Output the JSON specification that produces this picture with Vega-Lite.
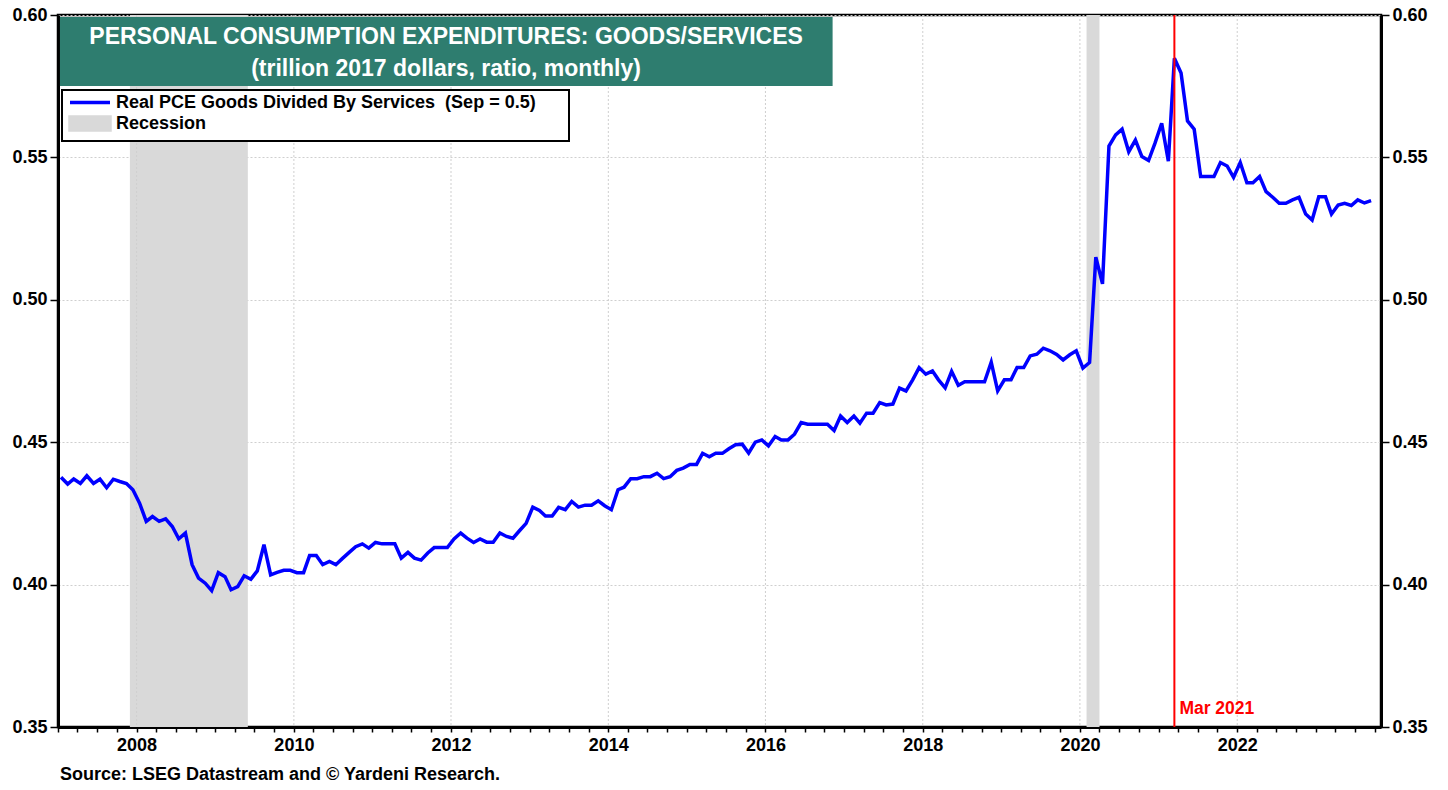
{
 "$schema": "https://vega.github.io/schema/vega-lite/v6.json",
 "width": 1323,
 "height": 712,
 "autosize": {"type": "none"},
 "padding": {"left": 58, "top": 15, "right": 67, "bottom": 63},
 "background": "white",
 "config": {"view": {"stroke": "black", "strokeWidth": 2.5}, "font": "Liberation Sans"},
 "title": {"text": "Source: LSEG Datastream and © Yardeni Research.", "orient": "bottom", "anchor": "start", "frame": "group", "font": "Liberation Sans", "fontSize": 18, "fontWeight": "bold", "color": "black", "offset": 12, "dx": 2},
 "data": {"values": [
  {"d":"2007-01-15","v":0.4377},{"d":"2007-02-15","v":0.4353},{"d":"2007-03-15","v":0.4371},{"d":"2007-04-15","v":0.4355},{"d":"2007-05-15","v":0.4382},{"d":"2007-06-15","v":0.4355},{"d":"2007-07-15","v":0.4370},{"d":"2007-08-15","v":0.4340},{"d":"2007-09-15","v":0.4370},{"d":"2007-10-15","v":0.4362},{"d":"2007-11-15","v":0.4355},{"d":"2007-12-15","v":0.4333},
  {"d":"2008-01-15","v":0.4286},{"d":"2008-02-15","v":0.4222},{"d":"2008-03-15","v":0.4239},{"d":"2008-04-15","v":0.4222},{"d":"2008-05-15","v":0.4231},{"d":"2008-06-15","v":0.4204},{"d":"2008-07-15","v":0.4161},{"d":"2008-08-15","v":0.4181},{"d":"2008-09-15","v":0.4070},{"d":"2008-10-15","v":0.4023},{"d":"2008-11-15","v":0.4005},{"d":"2008-12-15","v":0.3979},
  {"d":"2009-01-15","v":0.4042},{"d":"2009-02-15","v":0.4028},{"d":"2009-03-15","v":0.3982},{"d":"2009-04-15","v":0.3993},{"d":"2009-05-15","v":0.4031},{"d":"2009-06-15","v":0.4019},{"d":"2009-07-15","v":0.4048},{"d":"2009-08-15","v":0.4140},{"d":"2009-09-15","v":0.4034},{"d":"2009-10-15","v":0.4043},{"d":"2009-11-15","v":0.4050},{"d":"2009-12-15","v":0.4050},
  {"d":"2010-01-15","v":0.4042},{"d":"2010-02-15","v":0.4042},{"d":"2010-03-15","v":0.4102},{"d":"2010-04-15","v":0.4102},{"d":"2010-05-15","v":0.4070},{"d":"2010-06-15","v":0.4081},{"d":"2010-07-15","v":0.4070},{"d":"2010-08-15","v":0.4092},{"d":"2010-09-15","v":0.4113},{"d":"2010-10-15","v":0.4133},{"d":"2010-11-15","v":0.4143},{"d":"2010-12-15","v":0.4128},
  {"d":"2011-01-15","v":0.4148},{"d":"2011-02-15","v":0.4143},{"d":"2011-03-15","v":0.4143},{"d":"2011-04-15","v":0.4143},{"d":"2011-05-15","v":0.4093},{"d":"2011-06-15","v":0.4113},{"d":"2011-07-15","v":0.4093},{"d":"2011-08-15","v":0.4086},{"d":"2011-09-15","v":0.4111},{"d":"2011-10-15","v":0.4130},{"d":"2011-11-15","v":0.4130},{"d":"2011-12-15","v":0.4130},
  {"d":"2012-01-15","v":0.4160},{"d":"2012-02-15","v":0.4181},{"d":"2012-03-15","v":0.4163},{"d":"2012-04-15","v":0.4148},{"d":"2012-05-15","v":0.4160},{"d":"2012-06-15","v":0.4149},{"d":"2012-07-15","v":0.4149},{"d":"2012-08-15","v":0.4181},{"d":"2012-09-15","v":0.4169},{"d":"2012-10-15","v":0.4163},{"d":"2012-11-15","v":0.4190},{"d":"2012-12-15","v":0.4215},
  {"d":"2013-01-15","v":0.4272},{"d":"2013-02-15","v":0.4260},{"d":"2013-03-15","v":0.4241},{"d":"2013-04-15","v":0.4241},{"d":"2013-05-15","v":0.4271},{"d":"2013-06-15","v":0.4263},{"d":"2013-07-15","v":0.4292},{"d":"2013-08-15","v":0.4272},{"d":"2013-09-15","v":0.4279},{"d":"2013-10-15","v":0.4279},{"d":"2013-11-15","v":0.4294},{"d":"2013-12-15","v":0.4277},
  {"d":"2014-01-15","v":0.4263},{"d":"2014-02-15","v":0.4333},{"d":"2014-03-15","v":0.4342},{"d":"2014-04-15","v":0.4372},{"d":"2014-05-15","v":0.4372},{"d":"2014-06-15","v":0.4379},{"d":"2014-07-15","v":0.4379},{"d":"2014-08-15","v":0.4391},{"d":"2014-09-15","v":0.4372},{"d":"2014-10-15","v":0.4379},{"d":"2014-11-15","v":0.4401},{"d":"2014-12-15","v":0.4409},
  {"d":"2015-01-15","v":0.4422},{"d":"2015-02-15","v":0.4422},{"d":"2015-03-15","v":0.4461},{"d":"2015-04-15","v":0.4449},{"d":"2015-05-15","v":0.4461},{"d":"2015-06-15","v":0.4461},{"d":"2015-07-15","v":0.4477},{"d":"2015-08-15","v":0.4491},{"d":"2015-09-15","v":0.4493},{"d":"2015-10-15","v":0.4462},{"d":"2015-11-15","v":0.4500},{"d":"2015-12-15","v":0.4508},
  {"d":"2016-01-15","v":0.4487},{"d":"2016-02-15","v":0.4520},{"d":"2016-03-15","v":0.4508},{"d":"2016-04-15","v":0.4508},{"d":"2016-05-15","v":0.4528},{"d":"2016-06-15","v":0.4569},{"d":"2016-07-15","v":0.4563},{"d":"2016-08-15","v":0.4563},{"d":"2016-09-15","v":0.4563},{"d":"2016-10-15","v":0.4563},{"d":"2016-11-15","v":0.4541},{"d":"2016-12-15","v":0.4592},
  {"d":"2017-01-15","v":0.4569},{"d":"2017-02-15","v":0.4592},{"d":"2017-03-15","v":0.4567},{"d":"2017-04-15","v":0.4602},{"d":"2017-05-15","v":0.4602},{"d":"2017-06-15","v":0.4639},{"d":"2017-07-15","v":0.4631},{"d":"2017-08-15","v":0.4634},{"d":"2017-09-15","v":0.4690},{"d":"2017-10-15","v":0.4680},{"d":"2017-11-15","v":0.4719},{"d":"2017-12-15","v":0.4762},
  {"d":"2018-01-15","v":0.4739},{"d":"2018-02-15","v":0.4750},{"d":"2018-03-15","v":0.4719},{"d":"2018-04-15","v":0.4691},{"d":"2018-05-15","v":0.4749},{"d":"2018-06-15","v":0.4700},{"d":"2018-07-15","v":0.4712},{"d":"2018-08-15","v":0.4712},{"d":"2018-09-15","v":0.4712},{"d":"2018-10-15","v":0.4712},{"d":"2018-11-15","v":0.4781},{"d":"2018-12-15","v":0.4680},
  {"d":"2019-01-15","v":0.4719},{"d":"2019-02-15","v":0.4719},{"d":"2019-03-15","v":0.4762},{"d":"2019-04-15","v":0.4762},{"d":"2019-05-15","v":0.4803},{"d":"2019-06-15","v":0.4809},{"d":"2019-07-15","v":0.4830},{"d":"2019-08-15","v":0.4821},{"d":"2019-09-15","v":0.4808},{"d":"2019-10-15","v":0.4789},{"d":"2019-11-15","v":0.4807},{"d":"2019-12-15","v":0.4821},
  {"d":"2020-01-15","v":0.4760},{"d":"2020-02-15","v":0.4780},{"d":"2020-03-15","v":0.5150},{"d":"2020-04-15","v":0.5056},{"d":"2020-05-15","v":0.5540},{"d":"2020-06-15","v":0.5579},{"d":"2020-07-15","v":0.5599},{"d":"2020-08-15","v":0.5520},{"d":"2020-09-15","v":0.5561},{"d":"2020-10-15","v":0.5503},{"d":"2020-11-15","v":0.5489},{"d":"2020-12-15","v":0.5550},
  {"d":"2021-01-15","v":0.5620},{"d":"2021-02-15","v":0.5487},{"d":"2021-03-15","v":0.5848},{"d":"2021-04-15","v":0.5796},{"d":"2021-05-15","v":0.5628},{"d":"2021-06-15","v":0.5599},{"d":"2021-07-15","v":0.5433},{"d":"2021-08-15","v":0.5433},{"d":"2021-09-15","v":0.5433},{"d":"2021-10-15","v":0.5482},{"d":"2021-11-15","v":0.5470},{"d":"2021-12-15","v":0.5430},
  {"d":"2022-01-15","v":0.5482},{"d":"2022-02-15","v":0.5411},{"d":"2022-03-15","v":0.5411},{"d":"2022-04-15","v":0.5433},{"d":"2022-05-15","v":0.5380},{"d":"2022-06-15","v":0.5360},{"d":"2022-07-15","v":0.5339},{"d":"2022-08-15","v":0.5339},{"d":"2022-09-15","v":0.5351},{"d":"2022-10-15","v":0.5360},{"d":"2022-11-15","v":0.5301},{"d":"2022-12-15","v":0.5280},
  {"d":"2023-01-15","v":0.5362},{"d":"2023-02-15","v":0.5362},{"d":"2023-03-15","v":0.5301},{"d":"2023-04-15","v":0.5333},{"d":"2023-05-15","v":0.5339},{"d":"2023-06-15","v":0.5331},{"d":"2023-07-15","v":0.5351},{"d":"2023-08-15","v":0.5340},{"d":"2023-09-15","v":0.5348}
 ]},
 "layer": [
  {
   "data": {"values": [{"s": "2007-12-01", "e": "2009-06-01"}, {"s": "2020-02-01", "e": "2020-04-01"}]},
   "mark": {"type": "rect"},
   "encoding": {
    "x": {"field": "s", "type": "temporal",
     "scale": {"type": "utc", "domain": [{"year": 2007, "month": 1, "date": 1, "utc": true}, {"year": 2023, "month": 10, "date": 31, "utc": true}]},
     "axis": {
      "title": null,
      "tickCount": {"interval": "month", "step": 3},
      "labelExpr": "utcmonth(datum.value) == 0 && utcyear(datum.value) % 2 == 0 ? utcFormat(datum.value, '%Y') : ''",
      "labelOverlap": false, "labelFlush": false,
      "labelFont": "Liberation Sans", "labelFontSize": 18, "labelFontWeight": "bold", "labelColor": "black", "labelPadding": 4,
      "tickSize": 5, "tickColor": "black", "tickWidth": 1.5,
      "domainColor": "black", "domainWidth": 3,
      "grid": false
     }},
    "x2": {"field": "e"},
    "color": {"datum": "Recession",
     "scale": {"domain": ["Real PCE Goods Divided By Services\u00a0 (Sep = 0.5)", "Recession"], "range": ["#0000ff", "#d9d9d9"]},
     "legend": {
      "title": null, "orient": "none", "legendX": 4, "legendY": 75, "direction": "vertical",
      "fillColor": "white", "strokeColor": "black", "padding": 3, "cornerRadius": 0,
      "labelFont": "Liberation Sans", "labelFontSize": 18, "labelFontWeight": "bold", "labelColor": "black", "labelLimit": 800,
      "labelOffset": 16.5, "symbolOffset": 15.5, "symbolSize": 225, "symbolType": "stroke", "symbolStrokeWidth": 3.5, "rowPadding": -3,
      "labelExpr": "datum.label == 'Recession' ? datum.label : datum.label + '\u00a0\u00a0\u00a0\u00a0\u00a0\u00a0\u200b'",
      "encode": {
       "legend": {"update": {"strokeWidth": {"value": 2}}},
       "symbols": {"update": {
        "shape": {"signal": "datum.value == 'Recession' ? 'M-2.667,-0.867H2.667V0.867H-2.667Z' : 'M-2.667,0H2.667'"},
        "fill": {"signal": "datum.value == 'Recession' ? '#d9d9d9' : 'transparent'"},
        "stroke": {"signal": "datum.value == 'Recession' ? 'transparent' : '#0000ff'"},
        "strokeWidth": {"value": 3.5},
        "opacity": {"value": 1}
       }}
      }
     }}
   }
  },
  {
   "data": {"values": [{"g": "2008-01-01"}, {"g": "2010-01-01"}, {"g": "2012-01-01"}, {"g": "2014-01-01"}, {"g": "2016-01-01"}, {"g": "2018-01-01"}, {"g": "2020-01-01"}, {"g": "2022-01-01"}]},
   "mark": {"type": "rule", "color": "#cfcfcf", "strokeWidth": 1, "strokeDash": [2, 2]},
   "encoding": {"x": {"field": "g", "type": "temporal"}}
  },
  {
   "mark": {"type": "line", "strokeWidth": 3.5},
   "encoding": {
    "x": {"field": "d", "type": "temporal"},
    "y": {"field": "v", "type": "quantitative",
     "scale": {"domain": [0.35, 0.6], "nice": false, "zero": false},
     "axis": {
      "title": null, "orient": "left",
      "values": [0.35, 0.4, 0.45, 0.5, 0.55, 0.6], "format": ".2f",
      "labelFont": "Liberation Sans", "labelFontSize": 18, "labelFontWeight": "bold", "labelColor": "black", "labelPadding": 3, "labelFlush": false,
      "tickSize": 8, "tickColor": "black", "tickWidth": 1.5,
      "domainColor": "black", "domainWidth": 3,
      "grid": true, "gridColor": "#cfcfcf", "gridDash": [2, 2], "gridWidth": 1
     }},
    "color": {"datum": "Real PCE Goods Divided By Services\u00a0 (Sep = 0.5)"}
   }
  },
  {
   "data": {"values": [{}]},
   "mark": {"type": "rule", "color": "#ff0000", "strokeWidth": 2},
   "encoding": {"x": {"datum": {"year": 2021, "month": 3, "date": 15, "utc": true}, "type": "temporal"}}
  },
  {
   "data": {"values": [{}]},
   "mark": {"type": "text", "text": "Mar 2021", "color": "#ff0000", "font": "Liberation Sans", "fontSize": 17.5, "fontWeight": "bold", "align": "left", "baseline": "middle", "dx": 5},
   "encoding": {
    "x": {"datum": {"year": 2021, "month": 3, "date": 15, "utc": true}, "type": "temporal"},
    "y": {"datum": 0.3563, "type": "quantitative", "axis": null}
   }
  },
  {
   "data": {"values": [{}]},
   "mark": {"type": "rect", "color": "#2E7D6F"},
   "encoding": {
    "x": {"datum": {"year": 2007, "month": 1, "date": 10, "utc": true}, "type": "temporal"},
    "x2": {"datum": {"year": 2016, "month": 11, "date": 8, "utc": true}},
    "y": {"datum": 0.5993, "type": "quantitative", "axis": null},
    "y2": {"datum": 0.5751}
   }
  },
  {
   "data": {"values": [{}]},
   "mark": {"type": "text", "text": ["PERSONAL CONSUMPTION EXPENDITURES: GOODS/SERVICES", "(trillion 2017 dollars, ratio, monthly)"], "lineHeight": 32, "color": "white", "font": "Liberation Sans", "fontSize": 23, "fontWeight": "bold", "align": "center", "baseline": "middle"},
   "encoding": {
    "x": {"datum": {"year": 2011, "month": 12, "date": 9, "utc": true}, "type": "temporal"},
    "y": {"datum": 0.5923, "type": "quantitative", "axis": null}
   }
  },
  {
   "mark": {"type": "line", "opacity": 0},
   "encoding": {
    "x": {"field": "d", "type": "temporal"},
    "y": {"field": "v", "type": "quantitative",
     "axis": {
      "title": null, "orient": "right",
      "values": [0.35, 0.4, 0.45, 0.5, 0.55, 0.6], "format": ".2f",
      "labelFont": "Liberation Sans", "labelFontSize": 18, "labelFontWeight": "bold", "labelColor": "black", "labelPadding": 3, "labelFlush": false,
      "tickSize": 8, "tickColor": "black", "tickWidth": 1.5,
      "domainColor": "black", "domainWidth": 3, "grid": false
     }}
   }
  }
 ],
 "resolve": {"axis": {"y": "independent"}}
}
